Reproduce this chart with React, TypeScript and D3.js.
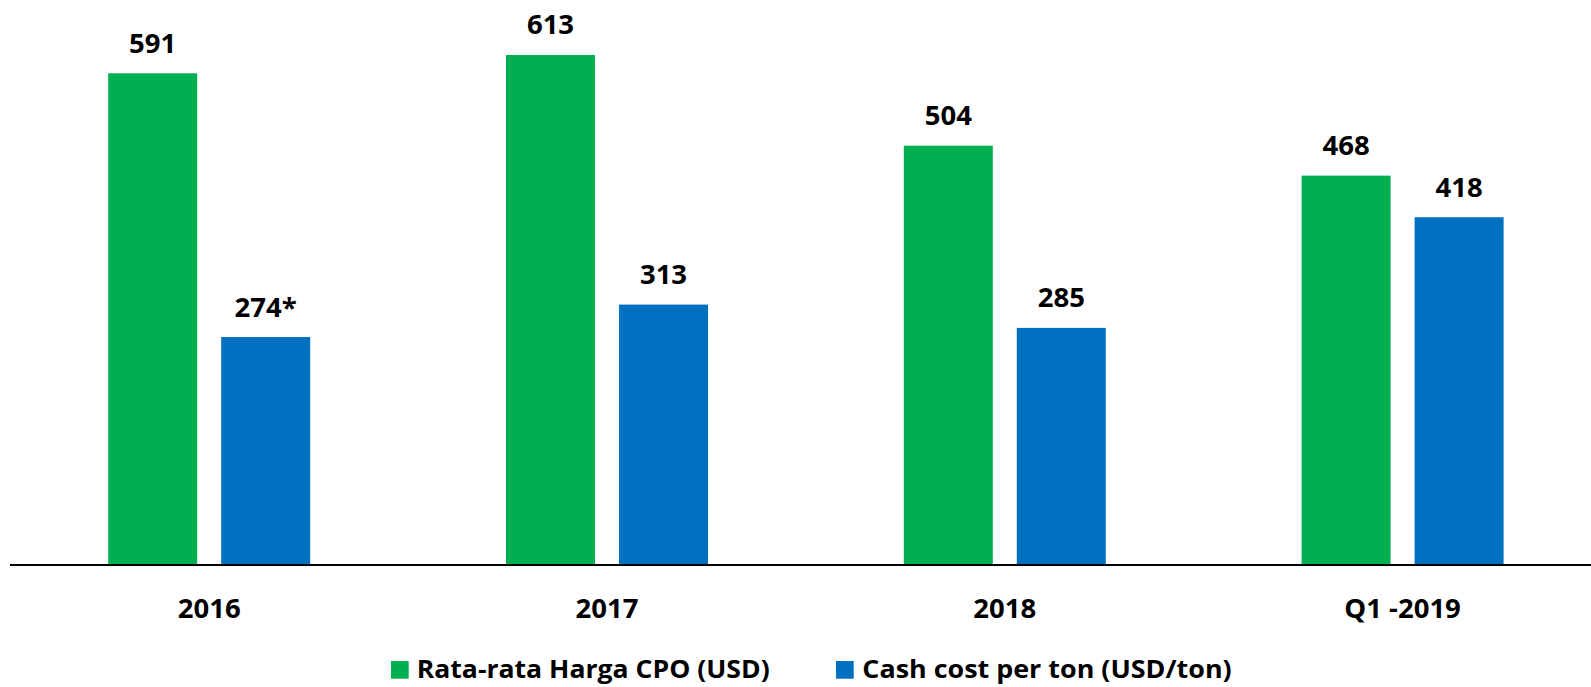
import React from "react";
import * as d3 from "d3";

const categories = ["2016", "2017", "2018", "Q1 -2019"];
const seriesNames = ["Rata-rata Harga CPO (USD)", "Cash cost per ton (USD/ton)"];
const cpoPrice = [591, 613, 504, 468];
const cashCost = [274, 313, 285, 418];
const cashCostLabels = ["274*", "313", "285", "418"];
const colors = ["#00B050", "#0070C0"];

const W = 1591;
const H = 687;
const BASE_Y = 565;

export default function App() {
  const x0 = d3.scaleBand<string>().domain(categories).range([10.3, 10.3 + 4 * 397.8]).paddingInner(0).paddingOuter(0);
  const x1 = d3.scaleBand<string>().domain(["a", "b"]).range([0, 202]).paddingInner(24 / 113).paddingOuter(0);
  const groupOffset = (x0.bandwidth() - 202) / 2;
  const y = d3.scaleLinear().domain([0, 613]).range([BASE_Y, BASE_Y - 613 * 0.832]);

  const font = "'Open Sans', 'Noto Sans', sans-serif";
  const series = [
    { key: "a", values: cpoPrice, labels: cpoPrice.map(String), color: colors[0] },
    { key: "b", values: cashCost, labels: cashCostLabels, color: colors[1] },
  ];

  return (
    <svg width={W} height={H} style={{ position: "absolute", left: 0, top: 0, background: "#fff" }}>
      {series.map((s) =>
        categories.map((c, i) => {
          const bx = (x0(c) as number) + groupOffset + (x1(s.key) as number);
          const bw = x1.bandwidth();
          const top = y(s.values[i]);
          return (
            <g key={s.key + c}>
              <rect x={bx} y={top} width={bw} height={BASE_Y - top} fill={s.color} />
              <text
                x={bx + bw / 2}
                y={top - 20.5}
                textAnchor="middle"
                fontFamily={font}
                fontWeight={700}
                fontSize={27.5}
                fill="#000"
              >
                {s.labels[i]}
              </text>
            </g>
          );
        })
      )}
      <line x1={10} x2={W} y1={BASE_Y} y2={BASE_Y} stroke="#000" strokeWidth={1.8} />
      {categories.map((c) => (
        <text
          key={c}
          x={(x0(c) as number) + x0.bandwidth() / 2}
          y={617.5}
          textAnchor="middle"
          fontFamily={font}
          fontWeight={700}
          fontSize={27.5}
          fill="#000"
        >
          {c}
        </text>
      ))}
      {/* legend */}
      <rect x={391} y={661} width={17.7} height={17.7} fill={colors[0]} />
      <text x={416.7} y={677.7} fontFamily={font} fontWeight={700} fontSize={25} fill="#000" textLength={353} lengthAdjust="spacingAndGlyphs">
        {seriesNames[0]}
      </text>
      <rect x={836} y={661} width={17.7} height={17.7} fill={colors[1]} />
      <text x={862.3} y={677.7} fontFamily={font} fontWeight={700} fontSize={25} fill="#000" textLength={369.4} lengthAdjust="spacingAndGlyphs">
        {seriesNames[1]}
      </text>
    </svg>
  );
}
